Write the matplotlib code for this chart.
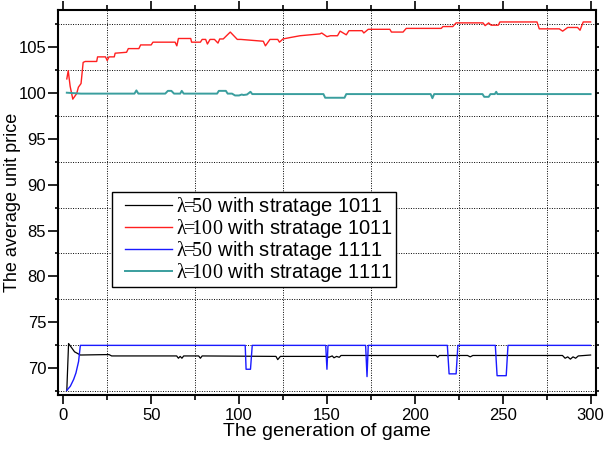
import matplotlib
matplotlib.use("Agg")
import matplotlib.pyplot as plt
from matplotlib.ticker import MultipleLocator
from matplotlib.legend_handler import HandlerLine2D
import numpy as np

plt.rcParams["font.family"] = ["Liberation Sans", "DejaVu Sans"]
plt.rcParams["mathtext.fontset"] = "custom"
plt.rcParams["mathtext.rm"] = "Liberation Serif"

# vertices (generation, price)
gen_l50_1011 = [2, 3, 4.9, 6.4, 8.3, 9.7, 26, 27.5, 64.5, 65.5, 66.5, 67.5, 68.5, 77, 78, 79,
                121, 122, 123.5, 150, 151, 153, 154, 155.5, 157, 158, 212, 213, 214, 230,
                231.5, 233, 284, 285.5, 287, 288.5, 290, 291.5, 293, 300]
val_l50_1011 = [67.6, 72.7, 72.2, 71.8, 71.6, 71.45, 71.5, 71.35, 71.35, 71.1, 71.3, 71.1, 71.35, 71.35, 71.1, 71.35,
                71.3, 70.95, 71.3, 71.3, 71.2, 71.35, 71.15, 71.3, 71.2, 71.4, 71.4, 71.2, 71.4, 71.4,
                71.25, 71.4, 71.4, 71.1, 71.25, 71.0, 71.25, 71.1, 71.35, 71.45]

gen_l100_1011 = [2, 2.8, 3.9, 5.4, 7.6, 8.6, 10.1, 11.3, 12.5, 19, 19.5, 24, 25, 26, 29, 29.5, 36, 37,
                 43, 44, 50, 51, 63.6, 64.6, 65.5, 72.5, 73, 78, 79, 81, 82, 83.5, 86, 88, 89, 91,
                 95, 99, 101, 113.8, 115, 117.6, 122, 123, 125, 129, 134.7, 146, 147, 150, 152,
                 156, 157.5, 161, 162.5, 170, 171, 173.5, 185.8, 186.7, 193.3, 195.1, 215, 216,
                 221.6, 223.5, 238.8, 240, 242, 243.4, 247.5, 248.4, 269.5, 270.8, 282.2, 284.1,
                 287, 292.6, 294, 295.8, 300]
val_l100_1011 = [101.5, 102.4, 100.7, 99.3, 99.9, 100.6, 101.0, 103.3, 103.4, 103.4, 103.9, 103.9, 103.5, 103.9, 103.9, 104.3, 104.4, 104.8,
                 104.8, 105.2, 105.2, 105.5, 105.5, 105.1, 105.9, 105.9, 105.5, 105.5, 105.8, 105.8, 105.3, 105.8, 105.8, 105.4, 105.85, 105.85,
                 106.6, 105.8, 105.8, 105.6, 105.1, 105.8, 105.8, 105.5, 105.85, 106.0, 106.2, 106.4, 106.5, 106.1, 106.2,
                 106.2, 106.7, 106.3, 106.75, 106.75, 106.5, 106.9, 106.9, 106.6, 106.6, 107.0, 107.0, 107.2,
                 107.2, 107.6, 107.6, 107.3, 107.6, 107.35, 107.35, 107.7, 107.7, 106.95, 106.95, 106.7,
                 107.1, 107.1, 106.8, 107.7, 107.7]

gen_l50_1111 = [2, 4, 5.9, 7.2, 8.7, 9.7, 103.5, 104, 106.5, 107.5, 149.3, 150, 150.6, 172, 172.8,
                173.5, 218.5, 219.5, 223.5, 224.5, 245.8, 246.8, 252, 253, 300]
val_l50_1111 = [67.6, 68.05, 68.8, 69.5, 70.75, 72.5, 72.5, 69.9, 69.9, 72.5, 72.5, 69.9, 72.5, 72.5, 69.1,
                72.5, 72.5, 69.4, 69.4, 72.5, 72.5, 69.2, 69.2, 72.5, 72.5]

gen_l100_1111 = [2, 10, 40.5, 41.6, 42.7, 58, 59.5, 61.5, 63, 66.5, 67.4, 68.5, 87.5, 88.5, 92.5, 93.5,
                 96, 97.7, 100, 101.5, 102.5, 104.5, 106.5, 107.5, 148, 149, 160, 161, 209, 210, 211,
                 238.5, 239.5, 242, 243, 245.5, 246.3, 247, 300]
val_l100_1111 = [100.0, 99.9, 99.9, 100.25, 99.9, 99.9, 100.2, 100.2, 99.9, 99.9, 100.2, 99.9, 99.9, 100.2, 100.2, 99.9,
                 99.9, 99.7, 99.7, 99.8, 99.75, 99.8, 100.1, 99.85, 99.85, 99.45, 99.45, 99.85, 99.85, 99.4, 99.85,
                 99.85, 99.55, 99.55, 99.85, 99.85, 100.1, 99.85, 99.85]

labels = [r"$\mathrm{\lambda\!\!=\!\!50}$ with stratage 1011",
          r"$\mathrm{\lambda\!\!=\!\!100}$ with stratage 1011",
          r"$\mathrm{\lambda\!\!=\!\!50}$ with stratage 1111",
          r"$\mathrm{\lambda\!\!=\!\!100}$ with stratage 1111"]


# legend line with a gap on its left side (like the original box)
class InsetLine(HandlerLine2D):
    def get_xdata(self, legend, xdescent, ydescent, width, height, fontsize):
        x0 = -xdescent + 0.5 * fontsize
        xdata = np.array([x0, -xdescent + width])
        return xdata, xdata


fig = plt.figure(figsize=(6.05, 4.49), dpi=100)
ax = fig.add_axes([0.0959, 0.1203, 0.889, 0.8574])

ax.plot(gen_l50_1011, val_l50_1011, color="black", lw=0.9, label=labels[0])
ax.plot(gen_l100_1011, val_l100_1011, color="#ff2020", lw=1.0, label=labels[1])
ax.plot(gen_l50_1111, val_l50_1111, color="#1a1aff", lw=1.0, label=labels[2])
ax.plot(gen_l100_1111, val_l100_1111, color="#3a9e9e", lw=1.4, label=labels[3])

ax.set_xlim(-3, 303)
ax.set_ylim(67.1, 109)
ax.xaxis.set_major_locator(MultipleLocator(50))
ax.xaxis.set_minor_locator(MultipleLocator(25))
ax.set_yticks([70, 75, 80, 85, 90, 95, 100, 105])
ax.yaxis.set_minor_locator(MultipleLocator(2.5))

ax.tick_params(which="both", direction="out", top=True, right=True, labelsize=12, width=1.2, pad=1.5)
ax.tick_params(axis="x", which="major", length=6.5, pad=3)
ax.tick_params(axis="x", which="minor", length=3.5)
ax.tick_params(axis="y", which="major", length=7)
ax.tick_params(axis="y", which="minor", length=2.5)
for t in ax.yaxis.get_major_ticks() + ax.yaxis.get_minor_ticks():
    t.tick2line.set_markersize(2)
ax.grid(which="minor", color="black", linestyle=(0, (1, 1.5)), linewidth=0.7)
ax.grid(which="major", visible=False)
for s in ax.spines.values():
    s.set_linewidth(1.5)

ax.set_xlabel("The generation of game", fontsize=14, labelpad=0)
ax.set_ylabel("The average unit price", fontsize=13)
ax.yaxis.set_label_coords(-0.069, 0.5)

leg = ax.legend(loc="upper left", bbox_to_anchor=(0.0998, 0.528), borderaxespad=0,
                fontsize=14.5, handlelength=2.86, fancybox=False, framealpha=1,
                edgecolor="black", labelspacing=-0.05, borderpad=0.15, handletextpad=0.2,
                handler_map={matplotlib.lines.Line2D: InsetLine()})
leg.get_frame().set_linewidth(1.0)

fig.savefig("out.png", dpi=100)
